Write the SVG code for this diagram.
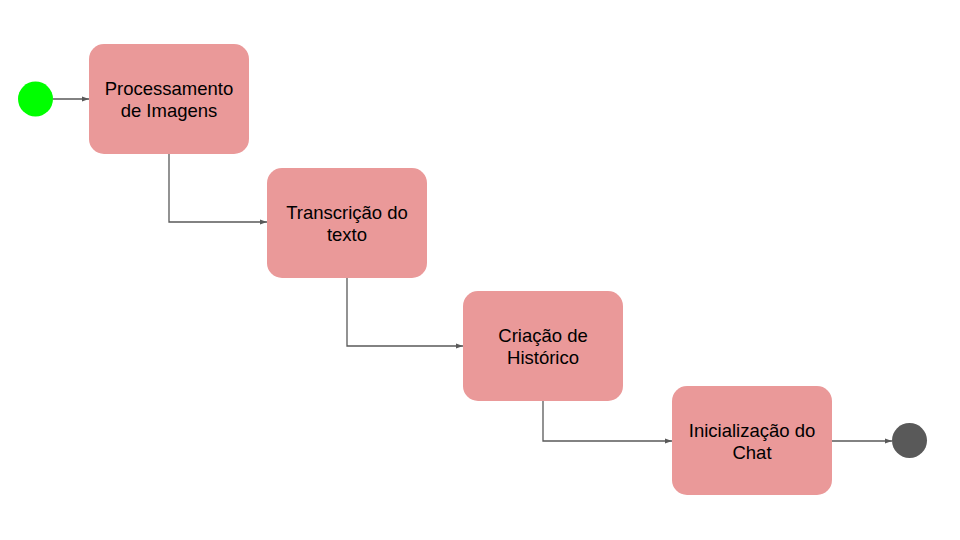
<svg xmlns="http://www.w3.org/2000/svg" width="960" height="540" viewBox="0 0 960 540">
<defs>
<style>
.box{fill:#ea9999;stroke:none}
.lbl{font-family:"Liberation Sans",Arial,sans-serif;font-size:18.5px;fill:#000;text-anchor:middle}
.edge{fill:none;stroke:#595959;stroke-width:1.3}
</style>
<marker id="arr" viewBox="0 0 10 10" refX="10" refY="5" markerWidth="7" markerHeight="7" markerUnits="userSpaceOnUse" orient="auto">
<path d="M0,1.5 L10,5 L0,8.5 z" fill="#595959"/>
</marker>
</defs>
<rect width="960" height="540" fill="#fff"/>
<g id="connectors">
<path class="edge" d="M53,99 H89" marker-end="url(#arr)"/>
<path class="edge" d="M169,154 V222 H267" marker-end="url(#arr)"/>
<path class="edge" d="M347,278 V346 H463" marker-end="url(#arr)"/>
<path class="edge" d="M543,401 V441 H672" marker-end="url(#arr)"/>
<path class="edge" d="M832,441 H892" marker-end="url(#arr)"/>
</g>
<g id="start"><circle cx="35.5" cy="99" r="17.5" fill="#00ff00"/></g>
<g id="n1"><rect class="box" x="89" y="44" width="160" height="110" rx="15"/>
<text class="lbl" x="169" y="95">Processamento</text><text class="lbl" x="169" y="117">de Imagens</text></g>
<g id="n2"><rect class="box" x="267" y="168" width="160" height="110" rx="15"/>
<text class="lbl" x="347" y="219">Transcrição do</text><text class="lbl" x="347" y="241">texto</text></g>
<g id="n3"><rect class="box" x="463" y="291" width="160" height="110" rx="15"/>
<text class="lbl" x="543" y="342">Criação de</text><text class="lbl" x="543" y="364">Histórico</text></g>
<g id="n4"><rect class="box" x="672" y="386" width="160" height="109" rx="15"/>
<text class="lbl" x="752" y="437">Inicialização do</text><text class="lbl" x="752" y="459">Chat</text></g>
<g id="end"><circle cx="909.5" cy="440.5" r="17.5" fill="#595959"/></g>
</svg>
